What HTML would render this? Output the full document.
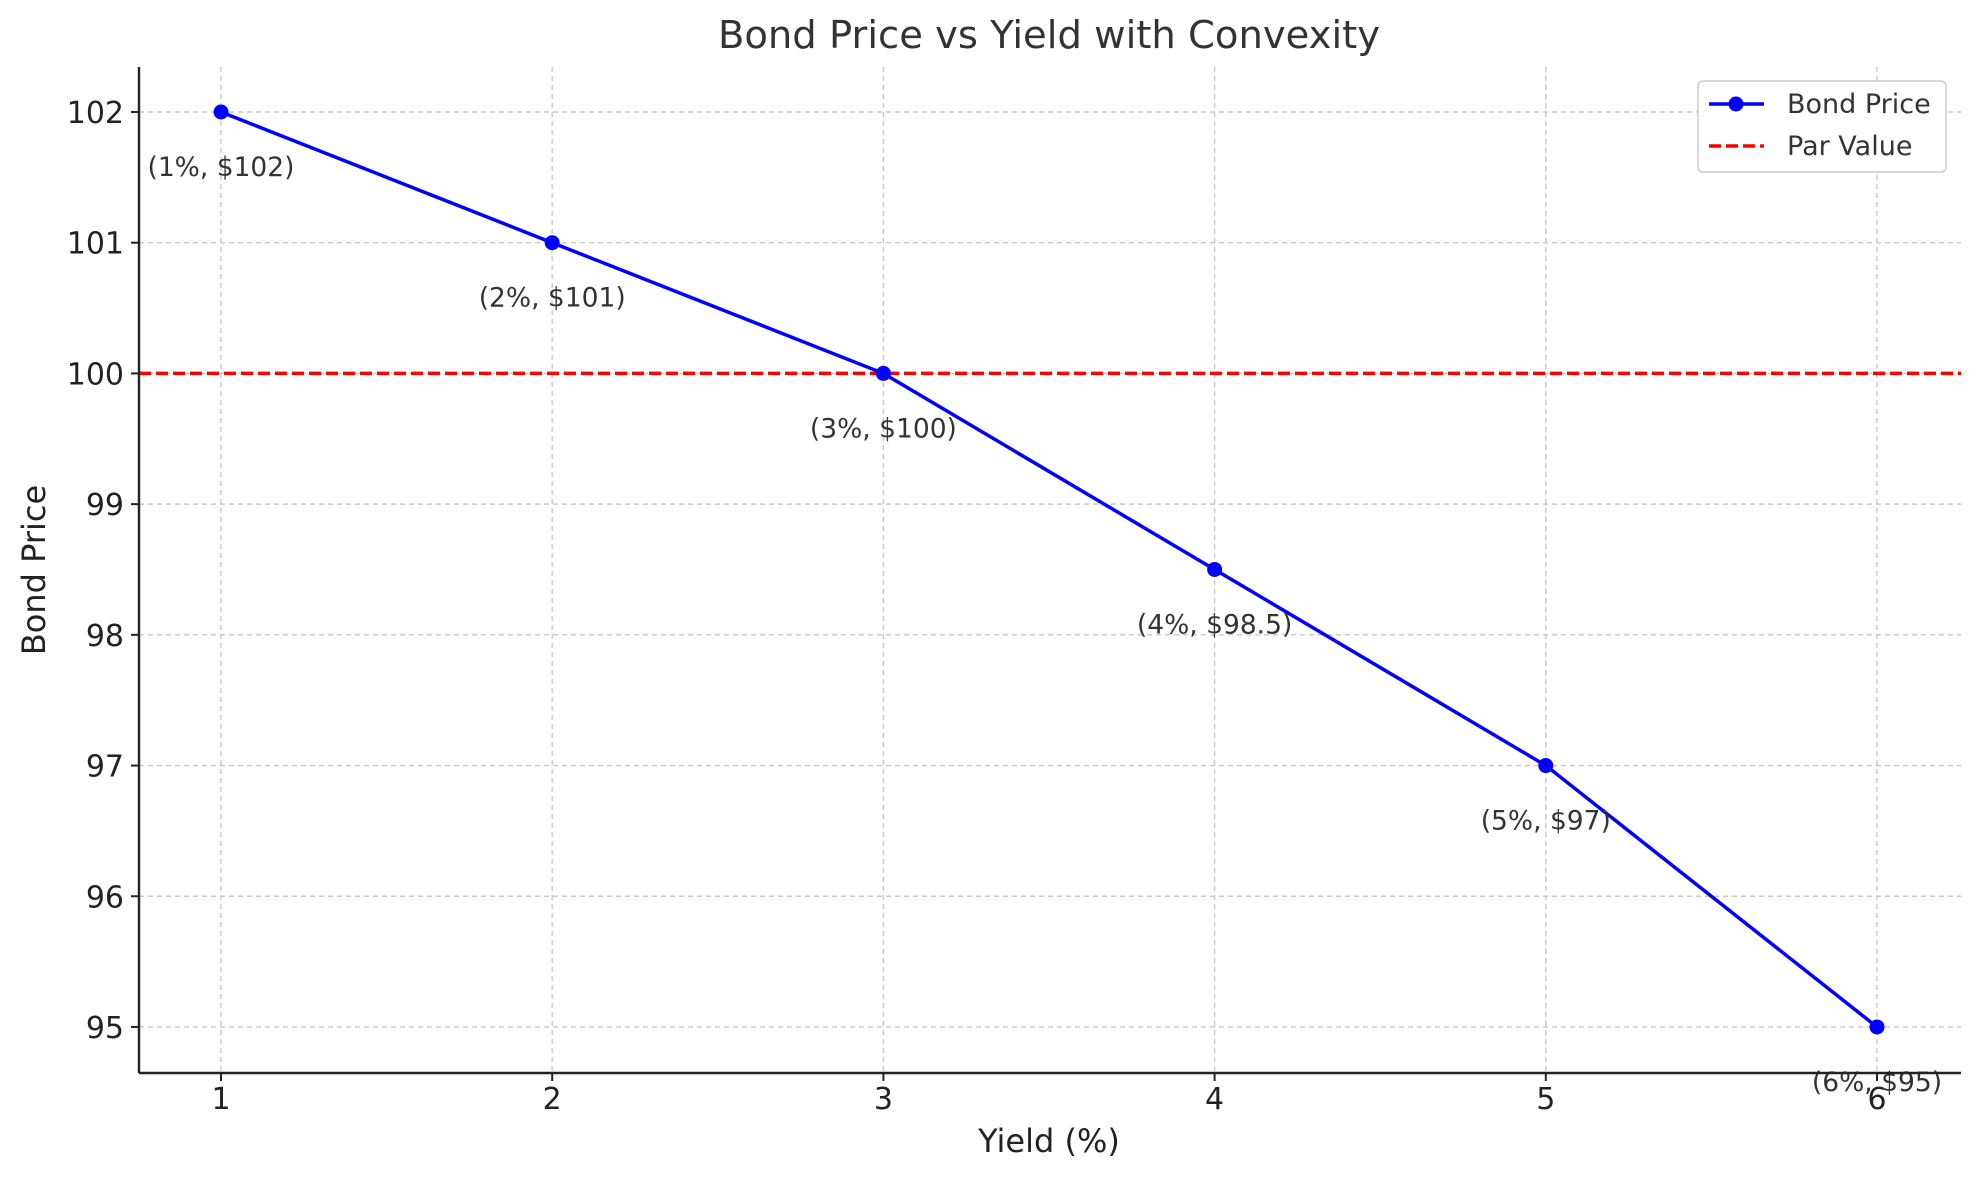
<!DOCTYPE html>
<html><head><meta charset="utf-8"><style>
body{margin:0;background:#fff}
svg text{font-family:"DejaVu Sans","Liberation Sans",sans-serif}
</style></head><body>
<svg id="chart" width="1980" height="1180" xmlns="http://www.w3.org/2000/svg">
<rect width="1980" height="1180" fill="#fff"/>
<g id="grid"></g>
<g id="marks"></g>
<line x1="139" y1="67" x2="139" y2="1073" stroke="#222" stroke-width="2.4"/>
<line x1="139" y1="1073" x2="1961" y2="1073" stroke="#222" stroke-width="2.4"/>
<g id="ticks"></g>
<text x="1049" y="48" font-size="38.5" text-anchor="middle" fill="#333">Bond Price vs Yield with Convexity</text>
<text x="1049" y="1152" font-size="32" text-anchor="middle" fill="#222">Yield (%)</text>
<text transform="translate(45,570) rotate(-90)" font-size="32" text-anchor="middle" fill="#222">Bond Price</text>
<g>
<rect x="1698" y="81" width="248" height="91" rx="5" fill="#fff" stroke="#ccc" stroke-width="1.5"/>
<line x1="1709" y1="104" x2="1764" y2="104" stroke="#0000ff" stroke-width="3.5"/>
<circle cx="1736" cy="104" r="7.5" fill="#0000ff"/>
<text x="1787" y="113" font-size="27" fill="#333">Bond Price</text>
<line x1="1709" y1="146" x2="1764" y2="146" stroke="#ff0000" stroke-width="3.5" stroke-dasharray="12,5"/>
<text x="1787" y="155" font-size="27" fill="#333">Par Value</text>
</g>
</svg>
<script>
const yields=[1,2,3,4,5,6];
const prices=[102,101,100,98.5,97,95];
const labels=["(1%, $102)","(2%, $101)","(3%, $100)","(4%, $98.5)","(5%, $97)","(6%, $95)"];
const xTicks=[1,2,3,4,5,6];
const yTicks=[95,96,97,98,99,100,101,102];
const parValue=100;
const NS="http://www.w3.org/2000/svg";
const X=v=>221+(v-1)*331.2;
const Y=v=>112+(102-v)*130.71;
function mk(tag,attrs,parent){const e=document.createElementNS(NS,tag);for(const k in attrs)e.setAttribute(k,attrs[k]);parent.appendChild(e);return e;}
const grid=document.getElementById('grid'),marks=document.getElementById('marks'),ticks=document.getElementById('ticks');
xTicks.forEach(t=>{
 const g=mk('line',{x1:X(t),x2:X(t),y1:67,y2:1073,stroke:'#c8c8c8','stroke-width':1.4,'stroke-dasharray':'5,4'},grid);
 
 
 mk('line',{x1:X(t),x2:X(t),y1:1073,y2:1081,stroke:'#222','stroke-width':2},ticks);
 const tx=mk('text',{x:X(t),y:1109,'font-size':30,'text-anchor':'middle',fill:'#222'},ticks);
 tx.textContent=t;
 
 
});
yTicks.forEach(t=>{
 const g=mk('line',{x1:139,x2:1961,y1:Y(t),y2:Y(t),stroke:'#c8c8c8','stroke-width':1.4,'stroke-dasharray':'5,4'},grid);
 
 
 mk('line',{x1:131,x2:139,y1:Y(t),y2:Y(t),stroke:'#222','stroke-width':2},ticks);
 const tx=mk('text',{x:124,y:Y(t)+11,'font-size':30,'text-anchor':'end',fill:'#222'},ticks);
 tx.textContent=t;
 
 
});
const par=mk('line',{x1:139,x2:1961,y1:Y(parValue),y2:Y(parValue),stroke:'#ff0000','stroke-width':3.5,'stroke-dasharray':'12,5'},marks);


const pl=mk('polyline',{points:yields.map((x,i)=>X(x)+','+Y(prices[i])).join(' '),fill:'none',stroke:'#0000ff','stroke-width':3.5},marks);


yields.forEach((x,i)=>{
 const c=mk('circle',{cx:X(x),cy:Y(prices[i]),r:7.5,fill:'#0000ff'},marks);
 
 
 const t=mk('text',{x:X(x),y:Y(prices[i])+64,'font-size':26.5,'text-anchor':'middle',fill:'#333'},marks);
 t.textContent=labels[i];
 
 
});
</script>
</body></html>
